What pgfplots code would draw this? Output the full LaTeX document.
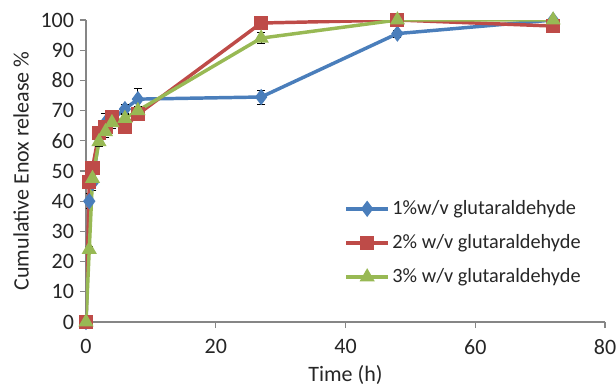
\documentclass[border=0pt]{standalone}
\usepackage{pgfplots}
\pgfplotsset{compat=1.18}
\usepackage{fontspec}
\setmainfont{Carlito}
\definecolor{cblue}{HTML}{4A7EBB}
\definecolor{cred}{HTML}{BE4B48}
\definecolor{cgreen}{HTML}{98B954}
\definecolor{caxis}{HTML}{868686}
\begin{document}
\begin{tikzpicture}
\useasboundingbox (-64.5pt,-48.75pt) rectangle (397.5pt,241.5pt);
\begin{axis}[
  scale only axis,
  width=389.25pt, height=226.5pt,
  xmin=0, xmax=80, ymin=0, ymax=100,
  xtick={0,20,40,60,80}, ytick={0,10,...,100},
  axis lines=left,
  axis line style={caxis, line width=0.8pt, -},
  tick style={caxis, line width=0.8pt},
  tick align=outside,
  major tick length=4.5pt,
  /pgf/number format/assume math mode=true,
  tick label style={font=\fontsize{16.5}{19}\selectfont, text=black!85},
  xticklabel style={yshift=-5pt},
  yticklabel style={xshift=-1pt},
  label style={font=\fontsize{16.5}{19}\selectfont, text=black!85},
  xlabel={Time (h)}, ylabel={Cumulative Enox release \%},
  xlabel style={yshift=-1pt},
  ylabel style={yshift=2pt},
  legend style={at={(0.49,0.42)}, anchor=north west, draw=none, fill=none,
    font=\fontsize{15.2}{18}\selectfont, row sep=9.5pt, text=black!85},
  legend cell align=left,
  legend image code/.code={
    \draw[#1, mark repeat=2, mark phase=2] plot coordinates {(0cm,0cm) (0.55cm,0cm) (1.1cm,0cm)};
  },
  error bars/error bar style={black, line width=0.6pt},
  error bars/error mark options={black, rotate=90, mark size=3pt, line width=0.6pt},
]
\addplot[cblue, line width=2.6pt, mark=diamond*, mark size=4pt, mark options={solid, fill=cblue},
  error bars/.cd, y dir=both, y explicit]
  table[x=x, y=y, y error=e] {
x y e
0 0 0.8
0.5 40 2.5
1 46 2.5
2 61 2
3 66 3
4 67 3
6 70.5 1.5
8 73.8 3.5
27 74.5 2.3
48 95.5 1.2
72 100 0.5
};
\addplot[cred, line width=2.6pt, mark=square*, mark size=4pt, mark options={solid, fill=cred},
  error bars/.cd, y dir=both, y explicit]
  table[x=x, y=y, y error=e] {
x y e
0 0 0.5
0.5 46.5 1.5
1 51 1.5
2 62.5 1.5
3 64.5 2
4 68 2
6 64.7 1.5
8 68.8 1.5
27 99 0.5
48 100 0.5
72 98 0.5
};
\addplot[cgreen, line width=2.6pt, mark=triangle*, mark size=4pt, mark options={solid, fill=cgreen},
  error bars/.cd, y dir=both, y explicit]
  table[x=x, y=y, y error=e] {
x y e
0 0 0.5
0.5 24 1
1 47.5 1.5
2 59.7 1.5
3 63 2
4 66 2
6 67.4 1.5
8 70 1.5
27 94 1.9
48 100 0.5
72 100 0.5
};
\legend{1\%w/v glutaraldehyde, 2\% w/v glutaraldehyde, 3\% w/v glutaraldehyde}
\end{axis}
\end{tikzpicture}
\end{document}
